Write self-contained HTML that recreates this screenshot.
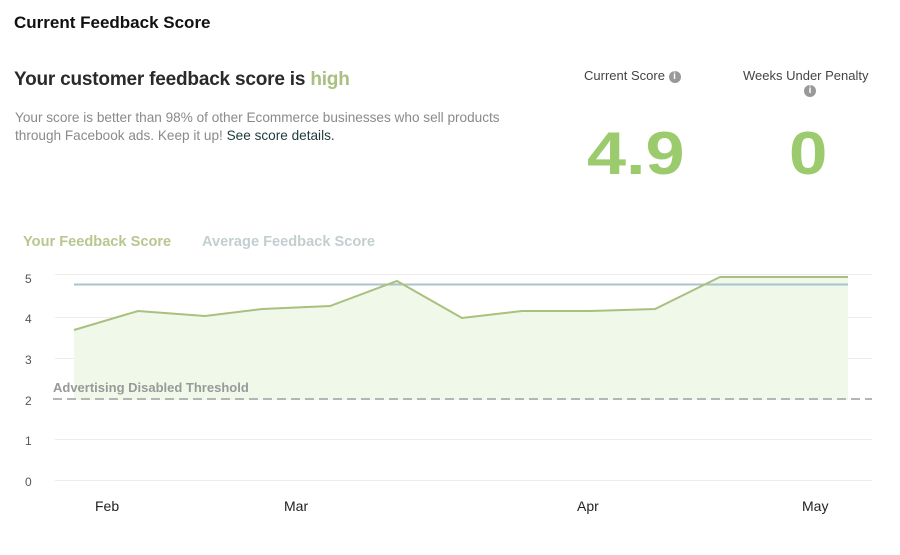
<!DOCTYPE html>
<html><head><meta charset="utf-8"><style>
body{margin:0;width:900px;height:555px;background:#fff;font-family:"Liberation Sans",sans-serif;overflow:hidden;position:relative}
.a{position:absolute;white-space:nowrap}
</style></head><body>
<div class="a" style="left:14px;top:13px;font-size:17px;font-weight:bold;color:#111">Current Feedback Score</div>
<div class="a" style="left:14px;top:69px;font-size:19px;font-weight:bold;color:#2a2a2a;letter-spacing:-0.2px">Your customer feedback score is <span style="color:#a9c081">high</span></div>
<div class="a" style="left:15px;top:109px;font-size:13.6px;line-height:18px;color:#8a8a8a">Your score is better than 98% of other Ecommerce businesses who sell products<br>through Facebook ads. Keep it up! <span style="color:#1e3a3a">See score details.</span></div>
<div class="a" style="left:584px;top:68px;font-size:13px;color:#444">Current Score <span style="display:inline-block;width:12px;height:12px;border-radius:6px;background:#999;color:#fff;font-size:10px;line-height:12px;text-align:center;font-weight:bold;vertical-align:1px">i</span></div>
<div class="a" style="left:743px;top:68px;font-size:13px;color:#444">Weeks Under Penalty</div>
<div class="a" style="left:804px;top:85px;width:12px;height:12px;border-radius:6px;background:#999;color:#fff;font-size:10px;line-height:12px;text-align:center;font-weight:bold">i</div>
<div class="a" style="left:587px;top:119px;font-size:60px;font-weight:bold;color:#9ccb6e;transform:scaleX(1.17);transform-origin:0 0">4.9</div>
<div class="a" style="left:789px;top:119px;font-size:60px;font-weight:bold;color:#9ccb6e;transform:scaleX(1.15);transform-origin:0 0">0</div>
<div class="a" style="left:23px;top:234px;font-size:14.6px;font-weight:bold;color:#b8c690">Your Feedback Score</div>
<div class="a" style="left:202px;top:234px;font-size:14.6px;font-weight:bold;color:#c3cfcf">Average Feedback Score</div>
<svg class="a" style="left:0;top:0" width="900" height="555">
<g stroke="#ececec" stroke-width="1">
<line x1="55" x2="872" y1="274.5" y2="274.5"/><line x1="55" x2="872" y1="317.5" y2="317.5"/><line x1="55" x2="872" y1="358.5" y2="358.5"/><line x1="55" x2="872" y1="439.5" y2="439.5"/><line x1="55" x2="872" y1="480.5" y2="480.5"/>
</g>
<polygon points="74,330 138,311 205,316 262,309 330,306 397,281 462,318 522,311 590,311 655,309 720,277 848,277 848,400 74,400" fill="#eff8e9"/>
<line x1="74" x2="848" y1="284.5" y2="284.5" stroke="#a9c4cc" stroke-width="2"/>
<polyline points="74,330 138,311 205,316 262,309 330,306 397,281 462,318 522,311 590,311 655,309 720,277 848,277" fill="none" stroke="#a9c07e" stroke-width="2"/>
<line x1="53" x2="872" y1="399" y2="399" stroke="#b5b5b5" stroke-width="2" stroke-dasharray="9,5"/>
<text x="53" y="392" font-size="13" font-weight="bold" fill="#999" font-family="Liberation Sans">Advertising Disabled Threshold</text>
<g font-size="12" fill="#555" font-family="Liberation Sans">
<text x="25" y="283">5</text><text x="25" y="323">4</text><text x="25" y="364">3</text><text x="25" y="405">2</text><text x="25" y="445">1</text><text x="25" y="486">0</text>
</g>
<g font-size="14" fill="#222" font-family="Liberation Sans">
<text x="95" y="511">Feb</text><text x="284" y="511">Mar</text><text x="577" y="511">Apr</text><text x="802" y="511">May</text>
</g>
</svg>
</body></html>
